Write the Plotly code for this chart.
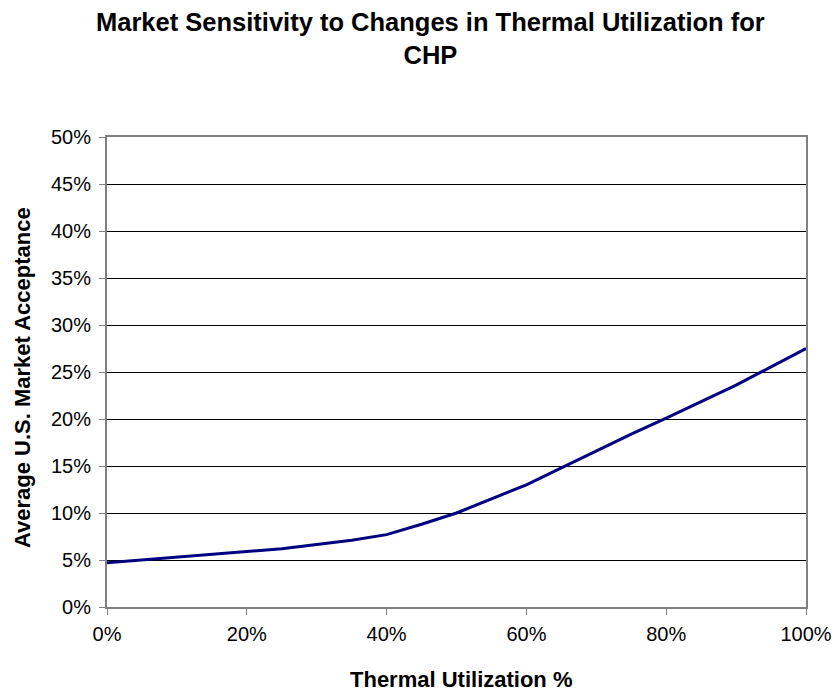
import plotly.graph_objects as go

# Thermal utilization (fraction) and resulting average U.S. market acceptance (fraction)
thermal_utilization = [0.00, 0.05, 0.10, 0.15, 0.20, 0.25, 0.30, 0.35, 0.40, 0.45, 0.50,
                       0.55, 0.60, 0.65, 0.70, 0.75, 0.80, 0.85, 0.90, 0.95, 1.00]
market_acceptance = [0.047, 0.050, 0.053, 0.056, 0.0595, 0.062, 0.0665, 0.071, 0.077, 0.088, 0.100,
                     0.115, 0.130, 0.148, 0.166, 0.184, 0.201, 0.2185, 0.236, 0.2555, 0.275]

x_ticks = [0.0, 0.2, 0.4, 0.6, 0.8, 1.0]
y_ticks = [0.00, 0.05, 0.10, 0.15, 0.20, 0.25, 0.30, 0.35, 0.40, 0.45, 0.50]

chart_title = "Market Sensitivity to Changes in Thermal Utilization for<br>CHP"
x_title = "Thermal Utilization %"
y_title = "Average U.S. Market Acceptance"

FONT = "Liberation Sans, Arial, sans-serif"

fig = go.Figure()
fig.add_trace(go.Scatter(
    x=thermal_utilization,
    y=market_acceptance,
    mode="lines",
    line=dict(color="#000080", width=3),
    showlegend=False,
    hoverinfo="x+y",
))

# Titles are placed as paper annotations so they sit at fixed spots around the plot area
fig.add_annotation(
    text="<b>" + chart_title + "</b>",
    xref="paper", yref="paper",
    x=0.4635, y=1.209,
    xanchor="center", yanchor="middle",
    showarrow=False, align="center",
    font=dict(family=FONT, size=25.5, color="black"),
)
fig.add_annotation(
    text="<b>" + x_title + "</b>",
    xref="paper", yref="paper",
    x=0.506, y=-0.155,
    xanchor="center", yanchor="middle",
    showarrow=False,
    font=dict(family=FONT, size=22, color="black"),
)
fig.add_annotation(
    text="<b>" + y_title + "</b>",
    xref="paper", yref="paper",
    x=-0.1216, y=0.487,
    xanchor="center", yanchor="middle",
    textangle=-90,
    showarrow=False,
    font=dict(family=FONT, size=22, color="black"),
)

fig.update_layout(
    width=835,
    height=693,
    paper_bgcolor="white",
    plot_bgcolor="white",
    margin=dict(l=107, r=29, t=137, b=86, autoexpand=False),
    font=dict(family=FONT, color="black", size=20),
    xaxis=dict(
        range=[0, 1],
        tickvals=x_ticks,
        tickformat=".0%",
        ticks="outside",
        ticklen=6,
        tickcolor="#808080",
        ticklabelstandoff=2,
        showgrid=False,
        zeroline=False,
        showline=True,
        linecolor="#808080",
        linewidth=2,
        mirror=True,
        automargin=False,
        tickfont=dict(family=FONT, size=20),
    ),
    yaxis=dict(
        range=[0, 0.5],
        tickvals=y_ticks,
        tickformat=".0%",
        ticks="outside",
        ticklen=6,
        tickcolor="#808080",
        ticklabelstandoff=4,
        showgrid=True,
        gridcolor="black",
        gridwidth=1,
        zeroline=False,
        showline=True,
        linecolor="#808080",
        linewidth=2,
        mirror=True,
        automargin=False,
        tickfont=dict(family=FONT, size=20),
    ),
)

fig.write_html("out.html")
